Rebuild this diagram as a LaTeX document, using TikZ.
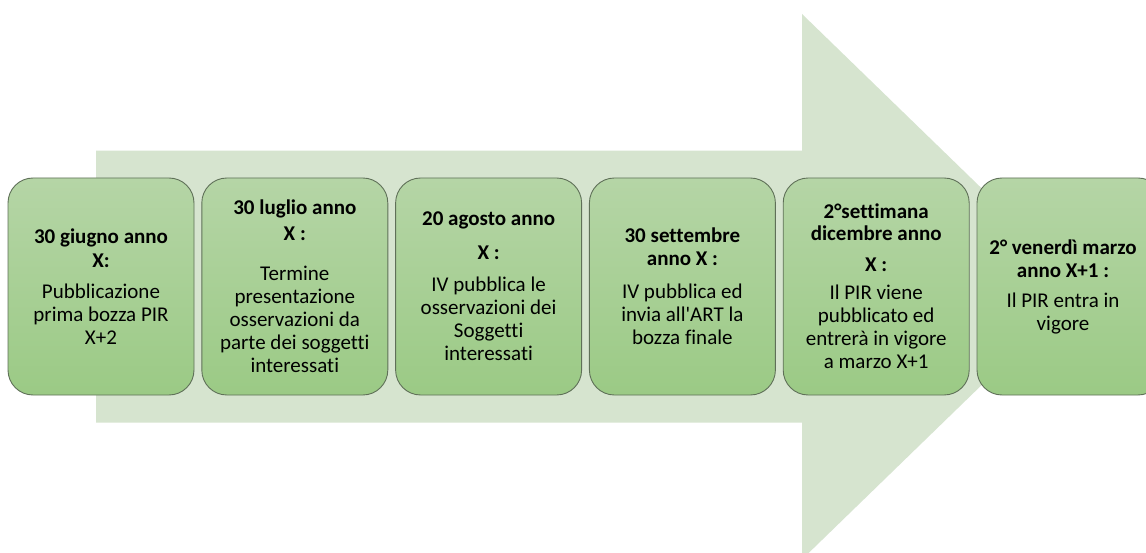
\documentclass[tikz,border=0pt]{standalone}
\usepackage{fontspec}
\setmainfont{Carlito}[Ligatures={TeXOff,CommonOff}]
\definecolor{arrowfill}{RGB}{214,228,207}
\definecolor{boxtop}{RGB}{181,213,166}
\definecolor{boxbot}{RGB}{155,202,133}
\definecolor{boxline}{RGB}{95,112,88}
\tikzset{
  steptext/.style={align=center, inner sep=2pt, text=black,
    font=\fontsize{21}{23}\selectfont},
  stepbox/.style={steptext, draw=boxline, line width=0.9pt, rounded corners=25pt,
    top color=boxtop, bottom color=boxbot, minimum width=186pt, minimum height=217pt},
  bigarrow/.style={fill=arrowfill, draw=none}
}
\begin{document}
\begin{tikzpicture}[x=1pt,y=-1pt]
\useasboundingbox (0,0) rectangle (1146,553);
\fill[white] (0,0) rectangle (1146,553);
% big arrow
\path[bigarrow] (96,150.7) -- (802,150.7) -- (802,14) -- (1083,286.7) -- (802,559.4) -- (802,422.7) -- (96,422.7) -- cycle;
% boxes
\node[stepbox] (b1) at (101,286.5) {\textbf{30 giugno anno}\\[1pt]\textbf{X:}\\[8pt]Pubblicazione\\prima bozza PIR\\X+2};
\node[stepbox] (b2) at (294.8,286.5) {\textbf{30 luglio anno}\\[3pt]\textbf{X :}\\[17pt]Termine\\presentazione\\osservazioni da\\parte dei soggetti\\interessati};
\node[stepbox] (b3) at (488.6,286.5) {\textbf{20 agosto anno}\\[11pt]\textbf{X :}\\[9pt]IV pubblica le\\osservazioni dei\\Soggetti\\interessati};
\node[stepbox] (b4) at (682.4,286.5) {\textbf{30 settembre}\\\textbf{anno X :}\\[10pt]IV pubblica ed\\invia all'ART la\\bozza finale};
\node[stepbox] (b5) at (876.2,286.5) {\textbf{2°settimana}\\[-1pt]\textbf{dicembre anno}\\[8pt]\textbf{X :}\\[5pt]Il PIR viene\\pubblicato ed\\entrerà in vigore\\a marzo X+1};
\node[stepbox] (b6) at (1070,286.5) {};
\node[steptext] (t6) at (1063,286.5) {\textbf{2° venerdì marzo}\\\textbf{anno X+1 :}\\[7pt]Il PIR entra in\\vigore};
\end{tikzpicture}
\end{document}
